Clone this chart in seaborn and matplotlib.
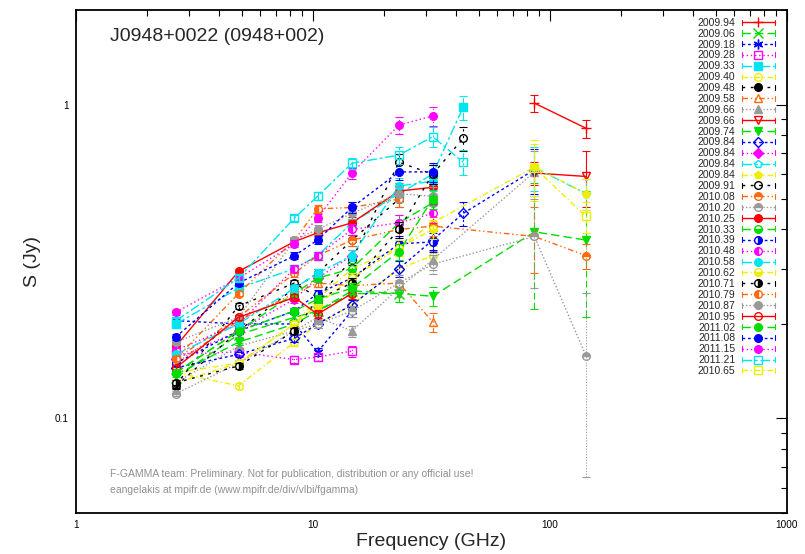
import numpy as np
import pandas as pd
import matplotlib
matplotlib.use("Agg")
import matplotlib.pyplot as plt
import seaborn as sns
from matplotlib.lines import Line2D
from matplotlib.legend_handler import HandlerLine2D
from matplotlib.ticker import LogLocator, NullFormatter, FixedLocator, FixedFormatter

sns.set_style("white")
plt.rcParams['font.family'] = ['Liberation Sans', 'DejaVu Sans']

# ---------------- data ----------------
freqs = [2.64, 4.85, 8.35, 10.45, 14.6, 23.05, 32.0, 43.0, 86.0, 142.0]
rel_err = [0.02, 0.02, 0.025, 0.03, 0.04, 0.06, 0.07, 0.09, 0.12, 0.15]
N = None

labels = ["2009.94", "2009.06", "2009.18", "2009.28", "2009.33", "2009.40", "2009.48",
          "2009.58", "2009.66", "2009.66", "2009.74", "2009.84", "2009.84", "2009.84",
          "2009.84", "2009.91", "2010.08", "2010.20", "2010.25", "2010.33", "2010.39",
          "2010.48", "2010.58", "2010.62", "2010.71", "2010.79", "2010.87", "2010.95",
          "2011.02", "2011.08", "2011.15", "2011.21", "2010.65"]

s_2009_94 = [N, N, N, N, N, N, N, N, 1.01, 0.84]
s_2009_06 = [0.135, 0.185, 0.21, 0.22, 0.255, 0.25, N, N, N, N]
s_2009_18 = [0.205, 0.20, 0.20, 0.163, 0.22, N, N, N, N, N]
s_2009_28 = [0.16, 0.163, 0.154, 0.157, 0.164, N, N, N, N, N]
s_2009_33 = [0.20, 0.26, 0.30, 0.33, 0.42, 0.52, 0.60, 0.98, N, N]
s_2009_40 = [0.14, 0.127, 0.175, 0.20, 0.23, 0.30, 0.33, N, N, N]
s_2009_48 = [0.127, 0.19, 0.26, 0.29, 0.37, 0.50, N, N, N, N]
s_2009_58 = [0.15, 0.205, 0.25, 0.27, 0.265, 0.27, 0.203, N, N, N]
s_2009_66a = [0.13, 0.17, 0.19, 0.21, 0.19, 0.26, 0.32, N, 0.61, N]
s_2009_66b = [N, N, N, N, N, N, N, N, 0.605, 0.59]
s_2009_74 = [0.138, 0.175, 0.20, 0.22, 0.25, 0.25, 0.245, N, 0.393, 0.37]
s_2009_84a = [0.145, 0.16, 0.18, 0.20, 0.23, 0.30, 0.37, 0.45, 0.62, N]
s_2009_84b = [0.155, 0.19, 0.24, 0.28, 0.33, N, N, N, N, N]
s_2009_84c = [N, N, N, N, N, N, N, N, 0.63, 0.52]
s_2009_84d = [0.14, 0.15, 0.20, 0.24, 0.30, 0.35, 0.42, N, 0.632, 0.52]
s_2009_91 = [0.128, 0.228, 0.27, 0.243, 0.32, 0.655, 0.60, 0.78, N, N]
s_2010_08 = [0.155, 0.21, 0.29, 0.33, 0.37, 0.40, 0.41, N, 0.38, 0.33]
s_2010_20 = [0.12, 0.15, 0.19, 0.20, 0.22, 0.27, 0.31, N, 0.38, 0.158]
s_2010_25 = [0.17, 0.294, 0.366, 0.39, 0.42, 0.53, 0.545, N, N, N]
s_2010_33 = [0.14, 0.19, 0.25, 0.28, 0.30, 0.42, 0.486, N, N, N]
s_2010_39 = [0.15, 0.19, 0.22, 0.25, 0.28, 0.36, 0.365, N, N, N]
s_2010_48 = [0.165, 0.20, 0.30, 0.33, 0.40, 0.42, 0.45, N, N, N]
s_2010_58 = [0.16, 0.20, 0.26, 0.29, 0.33, 0.55, 0.57, N, N, N]
s_2010_62 = [0.13, 0.15, 0.20, 0.23, 0.28, 0.35, 0.40, N, N, N]
s_2010_71 = [0.13, 0.147, 0.19, 0.24, 0.27, 0.40, 0.60, N, N, N]
s_2010_79 = [0.155, 0.25, 0.37, 0.465, 0.47, 0.50, N, N, N, N]
s_2010_87 = [0.175, 0.21, 0.37, 0.40, 0.45, 0.52, 0.51, N, N, N]
s_2010_95 = [0.145, 0.21, 0.243, 0.215, 0.25, N, N, N, N, N]
s_2011_02 = [0.14, 0.19, 0.22, 0.24, 0.26, 0.34, 0.50, N, N, N]
s_2011_08 = [0.182, 0.27, 0.33, 0.37, 0.47, 0.61, 0.61, N, N, N]
s_2011_15 = [0.218, 0.28, 0.36, 0.435, 0.605, 0.86, 0.92, N, N, N]
s_2011_21 = [0.205, 0.28, 0.435, 0.51, 0.65, 0.69, 0.79, 0.655, N, N]
s_2010_65 = [N, N, N, N, N, N, N, N, 0.63, 0.44]

series = [s_2009_94, s_2009_06, s_2009_18, s_2009_28, s_2009_33, s_2009_40, s_2009_48,
          s_2009_58, s_2009_66a, s_2009_66b, s_2009_74, s_2009_84a, s_2009_84b, s_2009_84c,
          s_2009_84d, s_2009_91, s_2010_08, s_2010_20, s_2010_25, s_2010_33, s_2010_39,
          s_2010_48, s_2010_58, s_2010_62, s_2010_71, s_2010_79, s_2010_87, s_2010_95,
          s_2011_02, s_2011_08, s_2011_15, s_2011_21, s_2010_65]

# absolute errors read for the 86 / 142 GHz points (index in series list -> (err86, err142))
iram_err = {0: (0.065, 0.055), 8: (0.10, None), 9: (0.05, 0.12), 10: (0.17, 0.16),
            11: (0.10, None), 13: (0.10, 0.06), 14: (0.14, 0.06), 16: (0.09, 0.03),
            17: (0.12, 0.093), 32: (0.12, 0.05)}

# ---------------- styles ----------------
colors = ['#ff0000', '#00dd00', '#0000ff', '#ff00ff', '#00e5ee', '#eeee00',
          '#000000', '#ff6a10', '#999999']
dash_styles = ['-', (0, (6, 3)), (0, (2, 2)), (0, (1, 2)), (0, (7, 2, 2, 2)),
               (0, (4, 2, 1, 2)), (0, (2, 4)), (0, (4, 2, 1, 2, 1, 2)), (0, (1, 1.5))]
# (marker, fillstyle)
markers = [('+', 'full'), ('x', 'full'), ((6, 2, 0), 'full'), ('s', 'none'), ('s', 'full'),
           ('o', 'none'), ('o', 'full'), ('^', 'none'), ('^', 'full'), ('v', 'none'),
           ('v', 'full'), ('D', 'none'), ('D', 'full'), ('p', 'none'), ('p', 'full'),
           ('o', 'none'), ('o', 'top'), ('o', 'top'), ('o', 'full'), ('o', 'bottom'),
           ('o', 'right'), ('o', 'left'), ('o', 'full'), ('o', 'bottom'), ('o', 'right'),
           ('o', 'left'), ('o', 'full'), ('o', 'none'), ('o', 'full'), ('o', 'full'),
           ('o', 'full'), ('s', 'none'), ('s', 'none')]

fig = plt.figure(figsize=(8.05, 5.54), dpi=100)
ax = fig.add_axes([76 / 805, 41 / 554, 711 / 805, 503 / 554])

handles = []
for i, (lab, vals) in enumerate(zip(labels, series)):
    col = colors[i % 9]
    ls = dash_styles[i % 9]
    mk, fs = markers[i]
    xs = [f for f, v in zip(freqs, vals) if v is not None]
    ys = [v for v in vals if v is not None]
    errs = []
    for f, v in zip(freqs, vals):
        if v is None:
            continue
        k = freqs.index(f)
        e = v * rel_err[k]
        if i in iram_err and k >= 8:
            ie = iram_err[i][k - 8]
            if ie is not None:
                e = ie
        errs.append(e)
    df = pd.DataFrame({'freq': xs, 'flux': ys})
    mkw = dict(marker=mk, markersize=5.5, fillstyle=fs, markeredgecolor=col,
               markerfacecolor=col, markerfacecoloralt='white', markeredgewidth=1.0)
    if mk in ('+', 'x') or isinstance(mk, tuple):
        mkw['markersize'] = 7
    sns.lineplot(data=df, x='freq', y='flux', ax=ax, color=col, linestyle=ls,
                 linewidth=1.0, errorbar=None, sort=True, legend=False, **mkw)
    eb = ax.errorbar(xs, ys, yerr=errs, fmt='none', ecolor=col, elinewidth=0.8,
                     capsize=3, capthick=0.8)
    eb[2][0].set_linestyle(ls)
    handles.append(Line2D([], [], color=col, linestyle=ls, linewidth=1.0, label=lab, **mkw))


class CapHandler(HandlerLine2D):
    def create_artists(self, legend, orig_handle, xdescent, ydescent, width, height,
                       fontsize, trans):
        arts = super().create_artists(legend, orig_handle, xdescent, ydescent, width,
                                      height, fontsize, trans)
        y = (height - ydescent) / 2
        h = height * 0.35
        for x in (-xdescent, -xdescent + width):
            arts.append(Line2D([x, x], [y - h, y + h], color=orig_handle.get_color(),
                               lw=0.8, transform=trans))
        return arts


leg = ax.legend(handles=handles, loc='upper right', bbox_to_anchor=(0.992, 0.997),
                frameon=False, fontsize=7.5, markerfirst=False, handlelength=3.2,
                handletextpad=0.6, labelspacing=0.085, borderaxespad=0.2, numpoints=1,
                handler_map={Line2D: CapHandler(numpoints=1)})

ax.set_xscale('log')
ax.set_yscale('log')
ax.set_xlim(1, 1000)
ax.set_ylim(0.05, 2.0)
ax.xaxis.set_major_locator(FixedLocator([1, 10, 100, 1000]))
ax.xaxis.set_major_formatter(FixedFormatter(['1', '10', '100', '1000']))
ax.yaxis.set_major_locator(FixedLocator([0.1, 1]))
ax.yaxis.set_major_formatter(FixedFormatter(['0.1', '1']))
ax.xaxis.set_minor_locator(LogLocator(base=10, subs=np.arange(2, 10)))
ax.yaxis.set_minor_locator(LogLocator(base=10, subs=np.arange(2, 10)))
ax.xaxis.set_minor_formatter(NullFormatter())
ax.yaxis.set_minor_formatter(NullFormatter())
ax.tick_params(which='both', direction='in', top=True, right=True, labelsize=7.2,
               width=0.8, colors='black')
ax.tick_params(which='major', length=8, pad=5)
ax.tick_params(which='minor', length=4)
for sp in ax.spines.values():
    sp.set_color('black')
    sp.set_linewidth(1.3)

ax.set_xlabel('Frequency (GHz)', fontsize=14, labelpad=2)
ax.set_ylabel('S (Jy)', fontsize=14, labelpad=10)

ax.text(0.048, 0.947, 'J0948+0022 (0948+002)', transform=ax.transAxes, fontsize=14,
        ha='left', va='center')
ax.text(0.048, 0.077, 'F-GAMMA team: Preliminary. Not for publication, distribution or any official use!',
        transform=ax.transAxes, fontsize=7.5, color='#909090', ha='left', va='center')
ax.text(0.048, 0.045, 'eangelakis at mpifr.de (www.mpifr.de/div/vlbi/fgamma)',
        transform=ax.transAxes, fontsize=7.5, color='#909090', ha='left', va='center')

fig.savefig('out.png', dpi=100)
